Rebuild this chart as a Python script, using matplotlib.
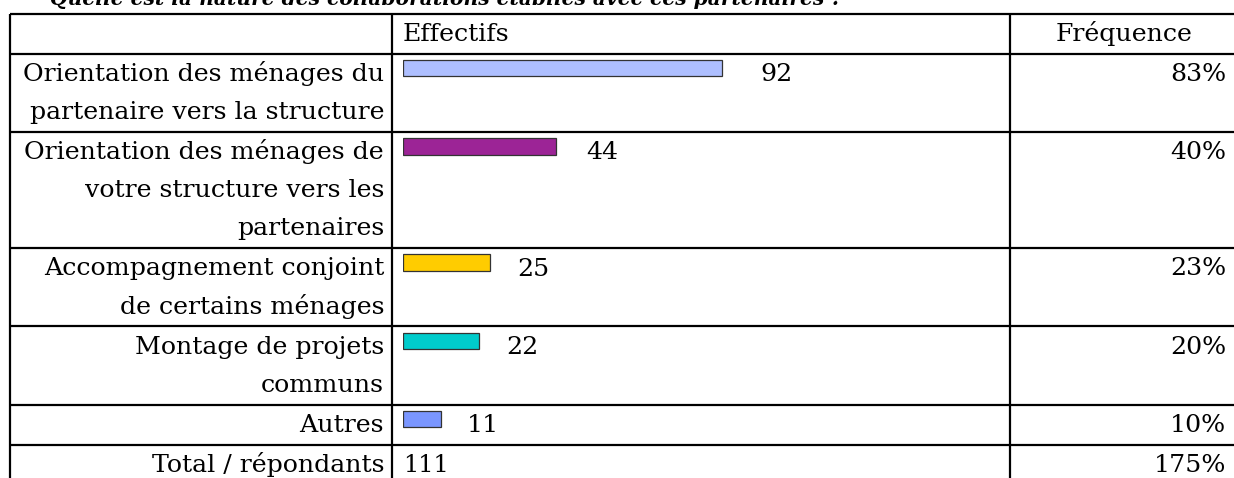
import matplotlib.pyplot as plt

labels = [
    "Orientation des ménages du\npartenaire vers la structure",
    "Orientation des ménages de\nvotre structure vers les\npartenaires",
    "Accompagnement conjoint\nde certains ménages",
    "Montage de projets\ncommuns",
    "Autres",
]
effectifs = [92, 44, 25, 22, 11]
frequences = ["83%", "40%", "23%", "20%", "10%"]
colors = ["#aebfff", "#9c2496", "#ffcc00", "#00cccc", "#7a96ff"]
total_label = "Total / répondants"
total_n = 111
total_freq = "175%"
header = ["Effectifs", "Fréquence"]
title = "Quelle est la nature des collaborations établies avec ces partenaires ?"

W, H = 1234, 478
font = "DejaVu Serif"
fs = 18.2
line_h = 38.1

fig = plt.figure(figsize=(W / 100, H / 100), dpi=100)
ax = fig.add_axes([0, 0, 1, 1])
ax.set_xlim(0, W)
ax.set_ylim(H, 0)
ax.axis("off")

# table layout (pixels)
x_left, x_c1, x_c2 = 9.5, 392, 1010
n_lines = [1] + [l.count("\n") + 1 for l in labels] + [1]
tops = [13.5]
for n in n_lines:
    tops.append(tops[-1] + n * line_h + 2)

ax.hlines(tops[:-1], x_left, W, color="black", lw=1.6)
ax.vlines([x_left, x_c1, x_c2], tops[0], H + 5, color="black", lw=1.6)

# title, cut by the top edge like in the source
ax.text(50, 5, title, fontsize=14.6, family=font, style="italic",
        weight="bold", va="baseline")

# header
base = tops[0] + 27.3
ax.text(403, base, header[0], fontsize=fs, family=font, va="baseline")
ax.text(1124, base, header[1], fontsize=fs, family=font,
        va="baseline", ha="center")

# rows
for i, lab in enumerate(labels):
    top = tops[i + 1]
    for j, part in enumerate(lab.split("\n")):
        ax.text(384, top + 27.3 + j * line_h, part, fontsize=fs, family=font,
                va="baseline", ha="right")
    ax.text(1226, top + 27.3, frequences[i], fontsize=fs, family=font,
            va="baseline", ha="right")

# total row
top = tops[-2]
ax.text(384, top + 27.3, total_label, fontsize=fs, family=font,
        va="baseline", ha="right")
ax.text(403, top + 27.3, str(total_n), fontsize=fs * 0.95, family=font,
        va="baseline")
ax.text(1226, top + 27.3, total_freq, fontsize=fs, family=font,
        va="baseline", ha="right")

# bars in the Effectifs column
bx0, bx1 = 403, x_c2
scale = 3.47
bx = fig.add_axes([bx0 / W, 0, (bx1 - bx0) / W, 1])
bx.set_xlim(0, (bx1 - bx0) / scale)
bx.set_ylim(H, 0)
bx.axis("off")
bx.patch.set_alpha(0)
ys = [tops[i + 1] + 14.5 for i in range(len(effectifs))]
bx.barh(ys, effectifs, height=16.5, color=colors, edgecolor="#333333", lw=0.9)
for y, v in zip(ys, effectifs):
    bx.text(v + 6.8 + 0.045 * v, y + 13, str(v), fontsize=fs,
            family=font, va="baseline")

fig.savefig("out.png", dpi=100)
